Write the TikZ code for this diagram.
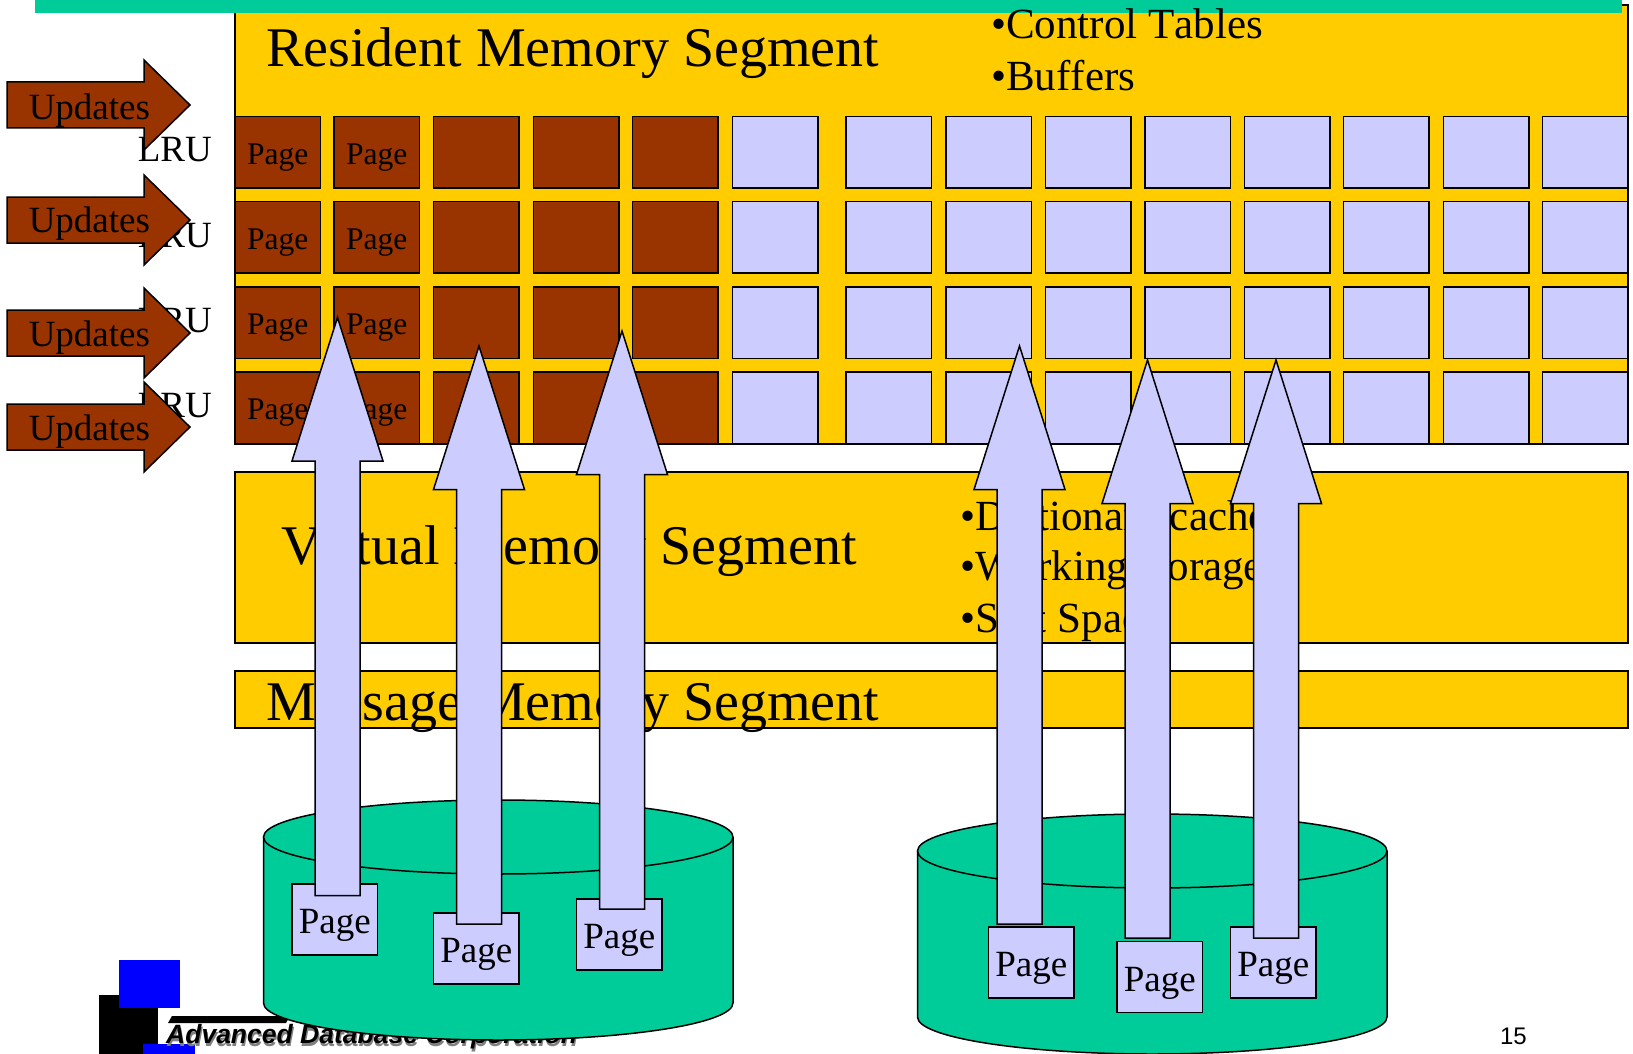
\documentclass[tikz,border=0pt]{standalone}
\usepackage{fontspec}
\setmainfont[Kerning=Off]{Liberation Serif}
\newfontfamily\logofont{Liberation Sans}
\definecolor{segcolor}{HTML}{FFCC00}
\definecolor{brickcolor}{HTML}{993300}
\definecolor{lavcolor}{HTML}{CCCCFF}
\definecolor{diskcolor}{HTML}{00CC99}
\tikzset{
  box/.style={draw=black,line width=1.5pt},
  segbox/.style={box,fill=segcolor},
  brickbox/.style={box,fill=brickcolor},
  lavbox/.style={box,fill=lavcolor},
  diskbox/.style={box,fill=diskcolor},
  bigtext/.style={anchor=base west,inner sep=0pt,font=\fontsize{56}{56}\selectfont},
  listtext/.style={anchor=base west,inner sep=0pt,font=\fontsize{43}{43}\selectfont},
  smalltext/.style={inner sep=0pt,font=\fontsize{37}{37}\selectfont},
  celltext/.style={inner sep=0pt,yshift=-5pt,font=\fontsize{31.5}{31.5}\selectfont},
  logotext/.style={anchor=base west,inner sep=0pt,font=\logofont\bfseries\itshape\fontsize{26.5}{26}\selectfont}
}
\begin{document}
\begin{tikzpicture}[x=1pt,y=-1pt]
  \useasboundingbox (0,0) rectangle (1633,1054);
  \draw [segbox] (235,5) rectangle (1628,444);
  \fill [diskcolor] (35,0) rectangle (1622,13);
  \node [bigtext] (resident) at (266,67) {Resident Memory Segment};
  \node [listtext] (tables) at (991,39) {•Control Tables};
  \node [listtext] (buffers) at (991,91) {•Buffers};
  \foreach [count = \i] \y in {116.5,201.5,287,372} {
    \foreach [count = \j] \x/\t in {235/Page,334/Page,433.5/,533.5/,632.5/}
    \draw [brickbox,shift={(\x,\y)}] (0,0) rectangle (85.5,71.5) node [midway,celltext] (brick\i\j) {\t};
    \foreach \x in {732.5,846,946,1045.5,1145,1244.5,1343.5,1443.5,1542.5}
    \draw [lavbox,shift={(\x,\y)}] (0,0) rectangle (85.5,71.5);
  }
  \draw [segbox] (235,472) rectangle (1628,643);
  \node [bigtext] (virtual) at (281,564) {Virtual Memory Segment};
  \node [listtext] (dict) at (960,530) {•Dictionary cache};
  \node [listtext] (work) at (960,580) {•Working storage};
  \node [listtext] (sort) at (960,632) {•Sort Space};
  \draw [segbox] (235,671) rectangle (1628,728);
  \node [bigtext] (message) at (266,720) {Message Memory Segment};
  \foreach [count = \i] \y in {161,247,332,417}
  \node [smalltext,anchor=base east] (lru\i) at (212,\y) {LRU};
  \foreach [count = \i] \y/\b in {82/38,197/35.5,310/36.5,404/36}
  \draw [brickbox,shift={(7,\y)}] (0,0) -- (137,0) -- (137,-22) -- (183,23) -- (137,68) -- (137,46) -- (0,46) -- cycle
    (21,\b) node [smalltext,anchor=base west] (updates\i) {Updates};
  \fill (99,995) rectangle (158,1054);
  \fill [blue] (119,960) rectangle (180,1008);
  \fill [blue] (143,1044) rectangle (195,1054);
  \fill (172,1016) -- (290,1016) -- (286,1023) -- (168,1023) -- cycle;
  \node [logotext,gray] (logoshade) at (167,1046) {Advanced Database Corporation};
  \node [logotext] (logo) at (166,1043) {Advanced Database Corporation};
  \foreach \x/\y in {263.5/837,917.5/851} {
    \draw [diskbox,shift={(\x,\y)}] (0,0) -- (0,166) arc [start angle=180,end angle=360,x radius=234.75pt,y radius=37pt] -- (469.5,0);
    \draw [diskbox,shift={(\x,\y)}] (234.75,0) ellipse [x radius=234.75pt,y radius=37pt];
  }
  \foreach [count = \i] \x/\y in {292/884,433.5/913,576.5/899,988.5/927,1117/941.5,1230.5/927}
  \draw [lavbox,shift={(\x,\y)}] (0,0) rectangle (85.5,71) node [midway,smalltext,yshift=-6pt] (disk\i) {Page};
  \foreach \x/\y in {337.5/317.5,479/346,622/331,1019.5/346,1147.5/360,1276/360}
  \draw [lavbox,shift={(\x,\y)}] (0,0) -- (45.5,143.5) -- (22.5,143.5) -- (22.5,578) -- (-22.5,578) -- (-22.5,143.5) -- (-45.5,143.5) -- cycle;
  \node [anchor=base east,inner sep=0pt,font=\logofont\fontsize{24}{24}\selectfont] (pagenum) at (1527,1044) {15};
\end{tikzpicture}
\end{document}
